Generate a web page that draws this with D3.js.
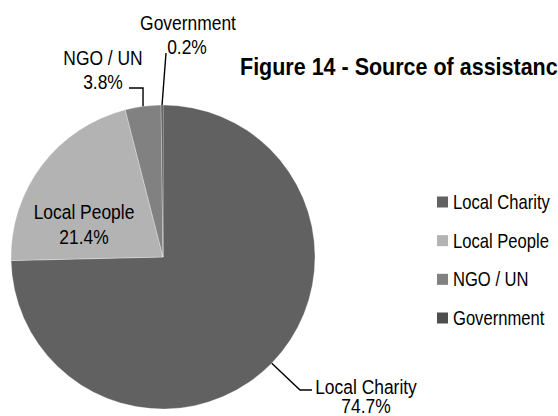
<!DOCTYPE html>
<html>
<head>
<meta charset="utf-8">
<script src="https://cdn.jsdelivr.net/npm/d3@7"></script>
<style>
  html, body { margin: 0; padding: 0; background: #fff; overflow: hidden; }
  svg { display: block; }
  text { font-family: "Liberation Sans Narrow", "Arial Narrow", "Liberation Sans", Arial, sans-serif; fill: #000; }
</style>
</head>
<body>
<svg id="chart" width="558" height="416"></svg>
<script>
// Source of assistance, shares in percent
const categories = ["Local Charity", "Local People", "NGO / UN", "Government"];
const shares = [74.7, 21.4, 3.8, 0.2];
const shareLabels = ["74.7%", "21.4%", "3.8%", "0.2%"];
const colors = ["#616161", "#b3b3b3", "#818181", "#4e4e4e"];
const title = "Figure 14 - Source of assistance";

const width = 558, height = 416;
const cx = 163, cy = 257, radius = 152;
const narrow = 0.83; // horizontal condensing for a narrow face

const svg = d3.select("#chart");

const data = categories.map((c, i) => ({ name: c, value: shares[i], label: shareLabels[i], color: colors[i] }));

const pie = d3.pie().sort(null).value(d => d.value).startAngle(0).endAngle(2 * Math.PI);
const arcs = pie(data);

const arc = d3.arc().innerRadius(0).outerRadius(radius);
const edge = d3.arc().innerRadius(radius).outerRadius(radius);

// condensed text drawn at (x, baseline y)
function narrowText(parent, x, y, str, size, anchor, weight, squeeze) {
  const holder = parent.append("g").attr("transform", `translate(${x},${y}) scale(${squeeze || narrow},1)`);
  return holder.append("text")
    .attr("x", 0).attr("y", 0)
    .attr("text-anchor", anchor || "start")
    .style("font-size", size + "px")
    .style("font-weight", weight || "normal")
    .text(str);
}

const g = svg.append("g").attr("transform", `translate(${cx},${cy})`);

g.selectAll("path.slice")
  .data(arcs)
  .join("path")
  .attr("class", "slice")
  .attr("d", arc)
  .attr("fill", d => d.data.color)
  .attr("stroke", "#fff")
  .attr("stroke-width", 0.3);

// Leader lines start on the rim at each slice's mid angle
const leaders = {
  "Local Charity": (p) => [p, [137, 133], [149, 133]],
  "NGO / UN":      (p) => [p, [p[0], -169], [-34, -169]],
  "Government":    (p) => [p, [3, -204]]
};

// Label positions: [x, baseline of name, baseline of value], centred
const labelPos = {
  "Local Charity": [366, 393.5, 413],
  "Local People":  [84, 218.5, 243.5],
  "NGO / UN":      [103, 65, 88.5],
  "Government":    [188, 29.5, 54]
};

const lineGen = d3.line();

arcs.forEach(a => {
  const name = a.data.name;
  const rim = edge.centroid(a);
  if (leaders[name]) {
    g.append("path")
      .attr("d", lineGen(leaders[name](rim)))
      .attr("fill", "none")
      .attr("stroke", "#000")
      .attr("stroke-width", 1.4);
  }
  const [lx, y1, y2] = labelPos[name];
  narrowText(svg, lx, y1, name, 21, "middle");
  narrowText(svg, name === "Government" ? lx - 1 : lx, y2, a.data.label, 21, "middle");
});

// Title, running past the right edge
narrowText(svg, 240, 75, title, 23, "start", "bold", 0.935);

// Legend
const legendY = d3.scalePoint().domain(categories).range([202, 318]);
const legend = svg.append("g").selectAll("g").data(data).join("g")
  .attr("transform", d => `translate(437,${legendY(d.name)})`);
legend.append("rect").attr("x", 0).attr("y", -5.5).attr("width", 11).attr("height", 11).attr("fill", d => d.color);
legend.each(function (d) {
  narrowText(d3.select(this), 16, 7, d.name, 20, "start");
});
</script>
</body>
</html>
